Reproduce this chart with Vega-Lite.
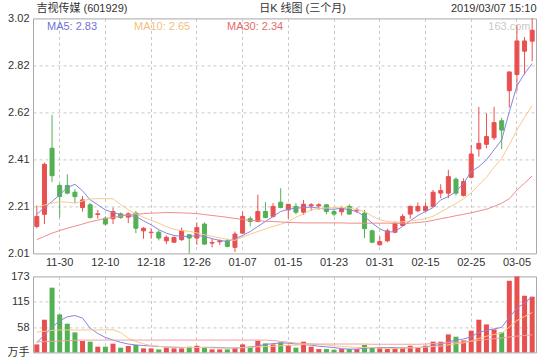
{
  "$schema": "https://vega.github.io/schema/vega-lite/v6.json",
  "background": "#ffffff",
  "padding": {"left": 6, "top": 1.4, "right": 0, "bottom": 0},
  "config": {
    "font": "Liberation Sans, Noto Sans CJK SC",
    "view": {"stroke": "#a8a8a8", "strokeWidth": 1},
    "axis": {
      "labelFont": "Liberation Sans, Noto Sans CJK SC",
      "labelFontSize": 11,
      "labelColor": "#333333",
      "labelPadding": 4,
      "labelBound": false,
      "labelFlush": false,
      "labelOverlap": false,
      "domain": false,
      "ticks": false,
      "gridColor": "#c8c8c8",
      "gridDash": [3, 3],
      "gridWidth": 1,
      "titleFont": "Liberation Sans, Noto Sans CJK SC",
      "titleFontSize": 11,
      "titleFontWeight": "normal",
      "titleColor": "#333333"
    },
    "legend": {"labelFont": "Liberation Sans, Noto Sans CJK SC"}
  },
  "datasets": {
    "k": [
      {"d":"11-27","o":2.126,"h":2.216,"l":2.118,"c":2.169,"vol":18.2,"m5":2.178,"m10":2.207,"m30":2.069,"vm5":22,"vm10":46,"vm30":24},
      {"d":"11-28","o":2.178,"h":2.400,"l":2.136,"c":2.393,"vol":74.4,"m5":2.207,"m10":2.218,"m30":2.083,"vm5":40,"vm10":48,"vm30":24.5},
      {"d":"11-29","o":2.462,"h":2.605,"l":2.316,"c":2.344,"vol":147.3,"m5":2.233,"m10":2.226,"m30":2.097,"vm5":57,"vm10":50,"vm30":25},
      {"d":"11-30","o":2.302,"h":2.310,"l":2.164,"c":2.254,"vol":86.5,"m5":2.262,"m10":2.232,"m30":2.108,"vm5":72,"vm10":51,"vm30":26},
      {"d":"12-03","o":2.302,"h":2.350,"l":2.264,"c":2.269,"vol":65.3,"m5":2.293,"m10":2.230,"m30":2.118,"vm5":81,"vm10":51,"vm30":27},
      {"d":"12-04","o":2.273,"h":2.286,"l":2.226,"c":2.254,"vol":45.5,"m5":2.307,"m10":2.226,"m30":2.127,"vm5":84,"vm10":51,"vm30":27.5},
      {"d":"12-05","o":2.207,"h":2.257,"l":2.190,"c":2.240,"vol":26,"m5":2.279,"m10":2.235,"m30":2.136,"vm5":78,"vm10":51,"vm30":28},
      {"d":"12-06","o":2.219,"h":2.226,"l":2.159,"c":2.164,"vol":24.4,"m5":2.240,"m10":2.244,"m30":2.146,"vm5":55,"vm10":51,"vm30":28},
      {"d":"12-07","o":2.177,"h":2.197,"l":2.159,"c":2.180,"vol":13,"m5":2.219,"m10":2.245,"m30":2.153,"vm5":43,"vm10":51,"vm30":28},
      {"d":"12-10","o":2.161,"h":2.169,"l":2.130,"c":2.136,"vol":13,"m5":2.197,"m10":2.245,"m30":2.160,"vm5":34,"vm10":51.4,"vm30":28},
      {"d":"12-11","o":2.159,"h":2.207,"l":2.136,"c":2.190,"vol":19.8,"m5":2.186,"m10":2.245,"m30":2.165,"vm5":28,"vm10":51.5,"vm30":28},
      {"d":"12-12","o":2.180,"h":2.186,"l":2.159,"c":2.164,"vol":10.7,"m5":2.176,"m10":2.220,"m30":2.170,"vm5":23,"vm10":45.2,"vm30":28},
      {"d":"12-13","o":2.166,"h":2.186,"l":2.140,"c":2.180,"vol":14.6,"m5":2.172,"m10":2.198,"m30":2.175,"vm5":19,"vm10":31.9,"vm30":28},
      {"d":"12-14","o":2.183,"h":2.193,"l":2.097,"c":2.118,"vol":16.8,"m5":2.169,"m10":2.180,"m30":2.178,"vm5":17,"vm10":24.9,"vm30":28},
      {"d":"12-17","o":2.107,"h":2.123,"l":2.073,"c":2.118,"vol":9.1,"m5":2.150,"m10":2.165,"m30":2.181,"vm5":15.5,"vm10":19.3,"vm30":28},
      {"d":"12-18","o":2.099,"h":2.118,"l":2.073,"c":2.101,"vol":9.1,"m5":2.133,"m10":2.152,"m30":2.183,"vm5":14.6,"vm10":15.7,"vm30":28},
      {"d":"12-19","o":2.101,"h":2.109,"l":2.066,"c":2.076,"vol":6.8,"m5":2.112,"m10":2.140,"m30":2.184,"vm5":13.5,"vm10":13.8,"vm30":28},
      {"d":"12-20","o":2.064,"h":2.087,"l":2.050,"c":2.079,"vol":10.7,"m5":2.097,"m10":2.125,"m30":2.186,"vm5":12.5,"vm10":12.4,"vm30":28},
      {"d":"12-21","o":2.058,"h":2.081,"l":2.056,"c":2.079,"vol":9.1,"m5":2.087,"m10":2.113,"m30":2.185,"vm5":11.5,"vm10":12.0,"vm30":28},
      {"d":"12-24","o":2.069,"h":2.121,"l":2.064,"c":2.107,"vol":9.1,"m5":2.083,"m10":2.108,"m30":2.184,"vm5":11,"vm10":11.6,"vm30":28},
      {"d":"12-25","o":2.090,"h":2.093,"l":2.010,"c":2.076,"vol":13,"m5":2.083,"m10":2.105,"m30":2.183,"vm5":11,"vm10":10.9,"vm30":28},
      {"d":"12-26","o":2.076,"h":2.143,"l":2.047,"c":2.121,"vol":15.2,"m5":2.087,"m10":2.098,"m30":2.181,"vm5":11,"vm10":11.4,"vm30":28},
      {"d":"12-27","o":2.136,"h":2.143,"l":2.047,"c":2.050,"vol":10.7,"m5":2.083,"m10":2.090,"m30":2.177,"vm5":11.5,"vm10":11.0,"vm30":28},
      {"d":"12-28","o":2.054,"h":2.073,"l":2.036,"c":2.057,"vol":6.8,"m5":2.073,"m10":2.083,"m30":2.173,"vm5":11.5,"vm10":10.0,"vm30":28},
      {"d":"01-02","o":2.060,"h":2.070,"l":2.047,"c":2.064,"vol":6.8,"m5":2.066,"m10":2.077,"m30":2.169,"vm5":11,"vm10":9.8,"vm30":28},
      {"d":"01-03","o":2.064,"h":2.073,"l":2.036,"c":2.040,"vol":6.8,"m5":2.061,"m10":2.070,"m30":2.165,"vm5":10,"vm10":9.5,"vm30":28},
      {"d":"01-04","o":2.036,"h":2.104,"l":2.016,"c":2.093,"vol":10.7,"m5":2.073,"m10":2.066,"m30":2.160,"vm5":9.5,"vm10":9.9,"vm30":28},
      {"d":"01-07","o":2.097,"h":2.190,"l":2.094,"c":2.169,"vol":18.2,"m5":2.087,"m10":2.080,"m30":2.156,"vm5":11,"vm10":10.7,"vm30":28},
      {"d":"01-08","o":2.159,"h":2.169,"l":2.126,"c":2.147,"vol":13,"m5":2.104,"m10":2.093,"m30":2.152,"vm5":12,"vm10":11.1,"vm30":28},
      {"d":"01-09","o":2.147,"h":2.262,"l":2.144,"c":2.190,"vol":26.6,"m5":2.126,"m10":2.104,"m30":2.150,"vm5":15,"vm10":12.8,"vm30":28},
      {"d":"01-10","o":2.190,"h":2.230,"l":2.161,"c":2.164,"vol":20.5,"m5":2.147,"m10":2.115,"m30":2.148,"vm5":18,"vm10":13.6,"vm30":28},
      {"d":"01-11","o":2.169,"h":2.226,"l":2.164,"c":2.212,"vol":18.2,"m5":2.169,"m10":2.126,"m30":2.147,"vm5":20,"vm10":13.9,"vm30":27},
      {"d":"01-14","o":2.230,"h":2.290,"l":2.204,"c":2.207,"vol":22.8,"m5":2.190,"m10":2.135,"m30":2.145,"vm5":21.5,"vm10":15.1,"vm30":25},
      {"d":"01-15","o":2.197,"h":2.221,"l":2.159,"c":2.221,"vol":16.8,"m5":2.200,"m10":2.147,"m30":2.143,"vm5":21,"vm10":16.1,"vm30":23},
      {"d":"01-16","o":2.212,"h":2.226,"l":2.178,"c":2.187,"vol":10.7,"m5":2.204,"m10":2.165,"m30":2.142,"vm5":19,"vm10":16.5,"vm30":21},
      {"d":"01-17","o":2.187,"h":2.240,"l":2.176,"c":2.221,"vol":24.4,"m5":2.207,"m10":2.180,"m30":2.141,"vm5":18,"vm10":18.3,"vm30":20},
      {"d":"01-18","o":2.214,"h":2.226,"l":2.193,"c":2.219,"vol":13,"m5":2.209,"m10":2.197,"m30":2.141,"vm5":16.5,"vm10":18.5,"vm30":19.5},
      {"d":"01-21","o":2.214,"h":2.226,"l":2.197,"c":2.219,"vol":7.6,"m5":2.204,"m10":2.203,"m30":2.141,"vm5":14,"vm10":17.5,"vm30":19},
      {"d":"01-22","o":2.219,"h":2.221,"l":2.178,"c":2.190,"vol":7.6,"m5":2.200,"m10":2.205,"m30":2.141,"vm5":12.5,"vm10":16.9,"vm30":19},
      {"d":"01-23","o":2.190,"h":2.200,"l":2.169,"c":2.179,"vol":6,"m5":2.200,"m10":2.207,"m30":2.141,"vm5":11,"vm10":14.8,"vm30":19},
      {"d":"01-24","o":2.189,"h":2.212,"l":2.173,"c":2.202,"vol":7.6,"m5":2.204,"m10":2.209,"m30":2.141,"vm5":8.5,"vm10":13.5,"vm30":19},
      {"d":"01-25","o":2.212,"h":2.221,"l":2.176,"c":2.179,"vol":7.6,"m5":2.197,"m10":2.205,"m30":2.140,"vm5":7.5,"vm10":12.5,"vm30":19},
      {"d":"01-28","o":2.193,"h":2.207,"l":2.183,"c":2.197,"vol":7.6,"m5":2.190,"m10":2.198,"m30":2.140,"vm5":7.5,"vm10":11.0,"vm30":19},
      {"d":"01-29","o":2.183,"h":2.197,"l":2.076,"c":2.116,"vol":16.8,"m5":2.169,"m10":2.190,"m30":2.140,"vm5":9.5,"vm10":11.0,"vm30":19},
      {"d":"01-30","o":2.107,"h":2.112,"l":2.054,"c":2.058,"vol":12,"m5":2.140,"m10":2.170,"m30":2.140,"vm5":10.5,"vm10":11.1,"vm30":18.5},
      {"d":"01-31","o":2.047,"h":2.083,"l":2.044,"c":2.061,"vol":10.7,"m5":2.116,"m10":2.155,"m30":2.140,"vm5":11,"vm10":9.7,"vm30":18.5},
      {"d":"02-01","o":2.064,"h":2.116,"l":2.058,"c":2.107,"vol":7.6,"m5":2.101,"m10":2.147,"m30":2.140,"vm5":11,"vm10":9.2,"vm30":18.5},
      {"d":"02-11","o":2.101,"h":2.147,"l":2.097,"c":2.140,"vol":9.1,"m5":2.104,"m10":2.144,"m30":2.139,"vm5":11,"vm10":9.3,"vm30":18.5},
      {"d":"02-12","o":2.130,"h":2.179,"l":2.126,"c":2.169,"vol":10.7,"m5":2.126,"m10":2.146,"m30":2.139,"vm5":10,"vm10":9.6,"vm30":18.5},
      {"d":"02-13","o":2.179,"h":2.216,"l":2.159,"c":2.212,"vol":15.2,"m5":2.150,"m10":2.150,"m30":2.140,"vm5":10.6,"vm10":10.5,"vm30":18.5},
      {"d":"02-14","o":2.193,"h":2.229,"l":2.187,"c":2.212,"vol":12,"m5":2.173,"m10":2.154,"m30":2.143,"vm5":11.3,"vm10":11.0,"vm30":18.5},
      {"d":"02-15","o":2.193,"h":2.229,"l":2.193,"c":2.212,"vol":15.2,"m5":2.190,"m10":2.159,"m30":2.146,"vm5":12.4,"vm10":11.7,"vm30":19},
      {"d":"02-18","o":2.212,"h":2.283,"l":2.207,"c":2.273,"vol":24.4,"m5":2.207,"m10":2.170,"m30":2.152,"vm5":15.3,"vm10":13.4,"vm30":20},
      {"d":"02-19","o":2.269,"h":2.307,"l":2.247,"c":2.280,"vol":24.4,"m5":2.240,"m10":2.188,"m30":2.159,"vm5":18,"vm10":14.2,"vm30":21},
      {"d":"02-20","o":2.269,"h":2.369,"l":2.247,"c":2.340,"vol":41,"m5":2.254,"m10":2.206,"m30":2.165,"vm5":24,"vm10":17.1,"vm30":22},
      {"d":"02-21","o":2.329,"h":2.336,"l":2.259,"c":2.269,"vol":35.7,"m5":2.276,"m10":2.224,"m30":2.172,"vm5":28,"vm10":19.6,"vm30":23},
      {"d":"02-22","o":2.259,"h":2.333,"l":2.254,"c":2.319,"vol":27.3,"m5":2.311,"m10":2.245,"m30":2.178,"vm5":30.5,"vm10":21.6,"vm30":24},
      {"d":"02-25","o":2.337,"h":2.476,"l":2.333,"c":2.437,"vol":49.4,"m5":2.362,"m10":2.270,"m30":2.185,"vm5":35.5,"vm10":25.6,"vm30":25.5},
      {"d":"02-26","o":2.459,"h":2.640,"l":2.426,"c":2.483,"vol":74.4,"m5":2.383,"m10":2.305,"m30":2.192,"vm5":45.6,"vm10":32.0,"vm30":27.5},
      {"d":"02-27","o":2.479,"h":2.612,"l":2.462,"c":2.512,"vol":63.7,"m5":2.412,"m10":2.337,"m30":2.200,"vm5":50,"vm10":36.8,"vm30":29.5},
      {"d":"02-28","o":2.507,"h":2.640,"l":2.497,"c":2.572,"vol":52.4,"m5":2.455,"m10":2.380,"m30":2.212,"vm5":53.4,"vm10":40.8,"vm30":31},
      {"d":"03-01","o":2.580,"h":2.593,"l":2.459,"c":2.540,"vol":45.5,"m5":2.498,"m10":2.418,"m30":2.226,"vm5":57,"vm10":43.9,"vm30":32.5},
      {"d":"03-04","o":2.709,"h":2.790,"l":2.637,"c":2.790,"vol":163,"m5":2.619,"m10":2.477,"m30":2.245,"vm5":80,"vm10":57.8,"vm30":35},
      {"d":"03-05","o":2.779,"h":2.990,"l":2.709,"c":2.923,"vol":173,"m5":2.730,"m10":2.540,"m30":2.282,"vm5":100,"vm10":72.7,"vm30":37},
      {"d":"03-06","o":2.879,"h":2.940,"l":2.779,"c":2.923,"vol":129,"m5":2.783,"m10":2.595,"m30":2.312,"vm5":113,"vm10":81.5,"vm30":38.5},
      {"d":"03-07","o":2.922,"h":3.020,"l":2.836,"c":2.969,"vol":126.8,"m5":2.826,"m10":2.645,"m30":2.343,"vm5":127,"vm10":90.6,"vm30":40}
    ]
  },
  "bounds": "flush",
  "spacing": 23,
  "resolve": {"scale": {"x": "independent", "y": "independent", "color": "independent"}},
  "vconcat": [
    {
      "width": 503,
      "height": 235,
      "data": {"name": "k"},
      "layer": [
        {
          "mark": {"type": "rule", "strokeWidth": 1},
          "encoding": {
            "x": {
              "field": "d", "type": "ordinal", "sort": null,
              "scale": {"paddingInner": 0, "paddingOuter": 0},
              "axis": {
                "orient": "bottom",
                "values": ["11-30","12-10","12-18","12-26","01-07","01-15","01-23","01-31","02-15","02-25","03-05"],
                "bandPosition": 0.5,
                "labelAngle": 0,
                "labelPadding": 3,
                "grid": true,
                "title": "163.com",
                "titleColor": "#c9c9c9",
                "titleX": 497,
                "titleY": -227,
                "titleAlign": "right",
                "titleBaseline": "middle"
              }
            },
            "y": {
              "field": "l", "type": "quantitative",
              "scale": {"domain": [2.01, 3.02], "nice": false, "zero": false},
              "axis": {
                "orient": "left",
                "values": [2.01, 2.212, 2.414, 2.616, 2.818, 3.02],
                "tickCount": 10,
                "format": ".2f",
                "grid": true,
                "gridOpacity": {"condition": {"test": "datum.value < 2.02 || datum.value > 3.01", "value": 0}, "value": 1},
                "title": "吉视传媒 (601929)",
                "titleAngle": 0,
                "titleX": 3,
                "titleY": -9.6,
                "titleAlign": "left",
                "titleBaseline": "middle"
              }
            },
            "y2": {"field": "h"},
            "color": {"condition": {"test": "datum.c >= datum.o", "value": "#e85050"}, "value": "#52b152"}
          }
        },
        {
          "mark": {"type": "bar", "size": 4, "strokeWidth": 1},
          "encoding": {
            "x": {"field": "d", "type": "ordinal", "sort": null, "axis": null},
            "y": {"field": "o", "type": "quantitative", "axis": null},
            "y2": {"field": "c"},
            "color": {"condition": {"test": "datum.c >= datum.o", "value": "#e85050"}, "value": "#52b152"},
            "stroke": {"condition": {"test": "datum.c >= datum.o", "value": "#e85050"}, "value": "#52b152"}
          }
        },
        {
          "transform": [{"fold": ["m5", "m10", "m30"], "as": ["ma", "val"]}],
          "mark": {"type": "line", "strokeWidth": 1},
          "encoding": {
            "x": {
              "field": "d", "type": "ordinal", "sort": null,
              "axis": {
                "orient": "top", "labels": false, "grid": false,
                "title": "日K 线图 (三个月)",
                "titleX": 269, "titleY": -9.6,
                "titleAlign": "center", "titleBaseline": "middle"
              }
            },
            "y": {
              "field": "val", "type": "quantitative",
              "axis": {
                "orient": "right", "labels": false, "grid": false,
                "title": "2019/03/07 15:10",
                "titleAngle": 0, "titleX": 0, "titleY": -9.6,
                "titleAlign": "right", "titleBaseline": "middle"
              }
            },
            "color": {
              "field": "ma", "type": "nominal",
              "scale": {"domain": ["m5", "m10", "m30"], "range": ["#8686e0", "#f7c98f", "#ee8c8c"]},
              "legend": {
                "orient": "top-left",
                "direction": "horizontal",
                "title": null,
                "offset": 3,
                "padding": 0,
                "symbolSize": 0,
                "symbolStrokeWidth": 0,
                "symbolOpacity": 0,
                "labelOffset": 0,
                "columnPadding": 25,
                "labelFontSize": 11,
                "labelExpr": "datum.label == 'm5' ? 'MA5: 2.83' : datum.label == 'm10' ? 'MA10: 2.65' : 'MA30: 2.34'",
                "labelColor": {"expr": "datum.label == 'm5' ? '#7272d6' : datum.label == 'm10' ? '#f3bf7c' : '#e46a6a'"}
              }
            }
          }
        }
      ],
      "resolve": {"axis": {"x": "independent", "y": "independent"}}
    },
    {
      "width": 503,
      "height": 76,
      "data": {"name": "k"},
      "layer": [
        {
          "mark": {"type": "bar", "size": 5},
          "encoding": {
            "x": {
              "field": "d", "type": "ordinal", "sort": null,
              "scale": {"paddingInner": 0, "paddingOuter": 0},
              "axis": {
                "values": ["11-30","12-10","12-18","12-26","01-07","01-15","01-23","01-31","02-15","02-25","03-05"],
                "bandPosition": 0.5,
                "labels": false,
                "grid": true,
                "title": null
              }
            },
            "y": {
              "field": "vol", "type": "quantitative",
              "scale": {"domain": [0, 173], "nice": false},
              "axis": {
                "values": [0, 57.667, 115.333, 173],
                "tickCount": 10,
                "labelExpr": "datum.value == 0 ? '万手' : format(datum.value, '.0f')",
                "grid": true,
                "gridOpacity": {"condition": {"test": "datum.value < 1 || datum.value > 172", "value": 0}, "value": 1},
                "title": null
              }
            },
            "color": {"condition": {"test": "datum.c >= datum.o", "value": "#e85050"}, "value": "#52b152"}
          }
        },
        {
          "mark": {"type": "line", "strokeWidth": 1, "color": "#8686e0"},
          "encoding": {
            "x": {"field": "d", "type": "ordinal", "sort": null},
            "y": {"field": "vm5", "type": "quantitative"}
          }
        },
        {
          "mark": {"type": "line", "strokeWidth": 1, "color": "#f7c98f"},
          "encoding": {
            "x": {"field": "d", "type": "ordinal", "sort": null},
            "y": {"field": "vm10", "type": "quantitative"}
          }
        },
        {
          "mark": {"type": "line", "strokeWidth": 1, "color": "#f2a2a2"},
          "encoding": {
            "x": {"field": "d", "type": "ordinal", "sort": null},
            "y": {"field": "vm30", "type": "quantitative"}
          }
        }
      ]
    }
  ]
}
